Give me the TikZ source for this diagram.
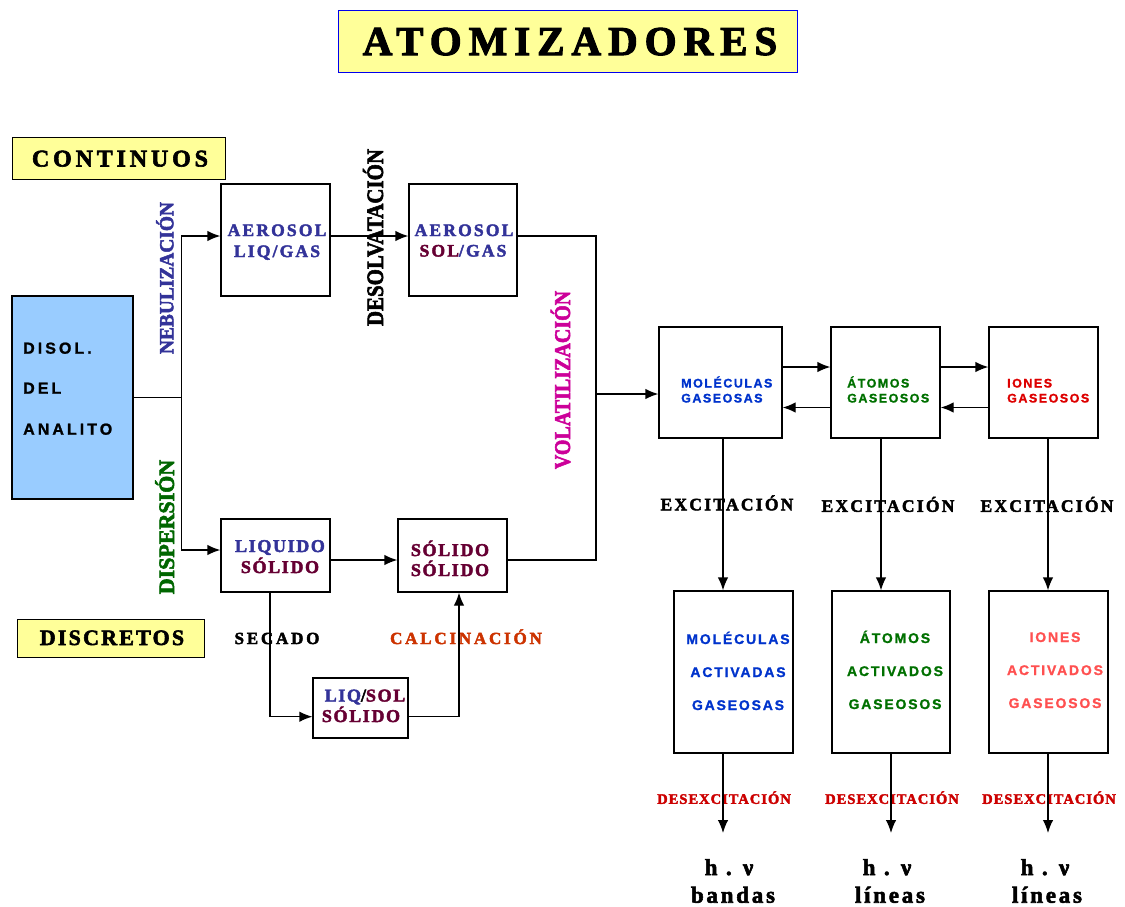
\documentclass[tikz,border=0pt]{standalone}
\usepackage{fontspec}
\setmainfont{Liberation Serif}
\newfontfamily\sansfam{Liberation Sans}
\usetikzlibrary{arrows.meta}
\definecolor{cYel}{HTML}{FFFF99}
\definecolor{cLb}{HTML}{99CCFF}
\definecolor{cNav}{HTML}{333399}
\definecolor{cMar}{HTML}{660033}
\definecolor{cGrn}{HTML}{006600}
\definecolor{cMag}{HTML}{CC0099}
\definecolor{cOra}{HTML}{CC3300}
\definecolor{cBlu}{HTML}{0033CC}
\definecolor{cGr2}{HTML}{007000}
\definecolor{cRed}{HTML}{DD0000}
\definecolor{cPink}{HTML}{FF5050}
\definecolor{cDes}{HTML}{CC0000}
\definecolor{cTb}{HTML}{0000EE}
\newcommand\myser[2]{\fontsize{#1}{#1}\selectfont\bfseries\addfontfeatures{LetterSpace=#2,FakeBold=2.5}}
\newcommand\mysan[2]{\sansfam\fontsize{#1}{#1}\selectfont\bfseries\addfontfeatures{LetterSpace=#2,FakeBold=1.2}}
\begin{document}
\begin{tikzpicture}[x=1pt,y=-1pt,
  box/.style={draw, line width=1.3pt, inner sep=0pt},
  arr/.style={-{Latex[length=13pt,width=10.5pt]}, line width=1.3pt},
  ln/.style={line width=1.3pt},
  lbl/.style={anchor=base, inner sep=0pt},
  lblw/.style={anchor=base west, inner sep=0pt},
  rot/.style={rotate=90, anchor=base, inner sep=0pt}]
\useasboundingbox (0,0) rectangle (1125,906);
% title and headers
\node[box, draw=cTb, line width=1pt, fill=cYel, minimum width=459pt, minimum height=62pt] (title) at (567.5,41) {};
\node[lbl] (ttext) at (570,55) {\myser{41}{17}ATOMIZADORES};
\node[box, fill=cYel, line width=1pt, minimum width=213pt, minimum height=42pt] (cont) at (118.5,158) {};
\node[lbl] (ctext) at (120,166.5) {\myser{24}{16}CONTINUOS};
\node[box, fill=cYel, line width=1pt, minimum width=187pt, minimum height=38pt] (disc) at (110.5,638) {};
\node[lbl] (dtext) at (112,645) {\myser{22}{10}DISCRETOS};
% analyte
\node[box, fill=cLb, minimum width=121pt, minimum height=203pt] (disol) at (72.5,397.5) {};
\node[lblw] (d1) at (23,353.7) {\mysan{16}{19}DISOL.};
\node[lblw] (d2) at (23,393.7) {\mysan{16}{19}DEL};
\node[lblw] (d3) at (23,434.7) {\mysan{16}{19}ANALITO};
% continuous branch
\node[box, minimum width=109pt, minimum height=112pt] (aer1) at (275.5,240) {};
\node[lbl] (a1a) at (277,236) {\myser{17.5}{12.5}\color{cNav}AEROSOL};
\node[lbl] (a1b) at (277,257) {\myser{17.5}{12.5}\color{cNav}LIQ/GAS};
\node[box, minimum width=108pt, minimum height=112pt] (aer2) at (463,240) {};
\node[lbl] (a2a) at (464,236) {\myser{17.5}{12.5}\color{cNav}AEROSOL};
\node[lbl] (a2b) at (463,256.5) {\myser{17.5}{12.5}\textcolor{cMar}{SOL}\textcolor{cNav}{/GAS}};
% discrete branch
\node[box, minimum width=109pt, minimum height=73pt] (liq) at (275.5,555.5) {};
\node[lbl] (l1) at (280,552) {\myser{18}{9}\color{cNav}LIQUIDO};
\node[lbl] (l2) at (280,573) {\myser{18}{9}\color{cMar}SÓLIDO};
\node[box, minimum width=109pt, minimum height=73pt] (sol) at (452.5,555.5) {};
\node[lbl] (s1) at (450,556) {\myser{18}{9}\color{cMar}SÓLIDO};
\node[lbl] (s2) at (450,576) {\myser{18}{9}\color{cMar}SÓLIDO};
\node[box, minimum width=95pt, minimum height=60pt] (liqsol) at (360.5,708) {};
\node[lbl] (ls1) at (365,701.5) {\myser{18}{9}\textcolor{cNav}{LIQ}/\textcolor{cMar}{SOL}};
\node[lbl] (ls2) at (361,722) {\myser{18}{9}\color{cMar}SÓLIDO};
\node[lbl] (secado) at (277,644) {\myser{17}{16.5}SECADO};
\node[lbl] (calc) at (466,644) {\myser{17}{16.5}\color{cOra}CALCINACIÓN};
% rotated labels
\node[rot] (neb) at (173.3,278) {\myser{20}{0}\color{cNav}\scalebox{0.97}[1]{NEBULIZACIÓN}};
\node[rot] (disp) at (174,527) {\myser{22}{0}\color{cGrn}\scalebox{1.0}[1]{DISPERSIÓN}};
\node[rot] (desolv) at (383,237.5) {\myser{23.5}{0}\scalebox{0.89}[1]{DESOLVATACIÓN}};
\node[rot] (volat) at (570,380) {\myser{22.5}{0}\color{cMag}\scalebox{0.89}[1]{VOLATILIZACIÓN}};
% gaseous species
\node[box, minimum width=123pt, minimum height=111pt] (mol) at (720.5,382.5) {};
\node[lblw] (m1) at (681,387.5) {\mysan{12.5}{12}\color{cBlu}MOLÉCULAS};
\node[lblw] (m2) at (681,402.5) {\mysan{12.5}{12}\color{cBlu}GASEOSAS};
\node[box, minimum width=109pt, minimum height=111pt] (ato) at (885.5,382.5) {};
\node[lblw] (t1) at (847,387.5) {\mysan{12.5}{12}\color{cGr2}ÁTOMOS};
\node[lblw] (t2) at (847,402.5) {\mysan{12.5}{12}\color{cGr2}GASEOSOS};
\node[box, minimum width=109pt, minimum height=111pt] (ion) at (1043.5,382.5) {};
\node[lblw] (i1) at (1007,387.5) {\mysan{12.5}{12}\color{cRed}IONES};
\node[lblw] (i2) at (1007,402.5) {\mysan{12.5}{12}\color{cRed}GASEOSOS};
% activated species
\node[box, minimum width=119pt, minimum height=162pt] (mola) at (733.5,672) {};
\node[lbl] (ma1) at (738,644) {\mysan{14}{13}\color{cBlu}MOLÉCULAS};
\node[lbl] (ma2) at (738,677) {\mysan{14}{13}\color{cBlu}ACTIVADAS};
\node[lbl] (ma3) at (738,710) {\mysan{14}{13}\color{cBlu}GASEOSAS};
\node[box, minimum width=118pt, minimum height=162pt] (atoa) at (891,672) {};
\node[lbl] (ta1) at (895,643) {\mysan{14}{13}\color{cGr2}ÁTOMOS};
\node[lbl] (ta2) at (895,676) {\mysan{14}{13}\color{cGr2}ACTIVADOS};
\node[lbl] (ta3) at (895,709) {\mysan{14}{13}\color{cGr2}GASEOSOS};
\node[box, minimum width=119pt, minimum height=162pt] (iona) at (1048.5,672) {};
\node[lbl] (ia1) at (1055,642) {\mysan{14}{13}\color{cPink}IONES};
\node[lbl] (ia2) at (1055,675) {\mysan{14}{13}\color{cPink}ACTIVADOS};
\node[lbl] (ia3) at (1055,708) {\mysan{14}{13}\color{cPink}GASEOSOS};
% excitation labels
\node[lbl] (ex1) at (727,510.3) {\myser{17.5}{13}EXCITACIÓN};
\node[lbl] (ex2) at (888,511.8) {\myser{17.5}{13}EXCITACIÓN};
\node[lbl] (ex3) at (1047,511.8) {\myser{17.5}{13}EXCITACIÓN};
\node[lbl] (dx1) at (724,803.8) {\myser{14.5}{7}\color{cDes}DESEXCITACIÓN};
\node[lbl] (dx2) at (892,803.8) {\myser{14.5}{7}\color{cDes}DESEXCITACIÓN};
\node[lbl] (dx3) at (1049,803.8) {\myser{14.5}{7}\color{cDes}DESEXCITACIÓN};
\node[lbl] (hv1) at (729,875) {\myser{23}{12}h . ν};
\node[lbl] (b1) at (733,902.7) {\myser{23}{12}bandas};
\node[lbl] (hv2) at (887,875) {\myser{23}{12}h . ν};
\node[lbl] (b2) at (890,902.7) {\myser{23}{12}líneas};
\node[lbl] (hv3) at (1045,875) {\myser{23}{12}h . ν};
\node[lbl] (b3) at (1047,902.7) {\myser{23}{12}líneas};
% connectors
\coordinate (j1) at (181.5,397.5);
\draw[ln] (disol.east |- j1) -- (j1);
\draw[arr] (j1) |- ([yshift=4pt]aer1.west);
\draw[arr] (j1) |- ([yshift=5.5pt]liq.west);
\draw[arr] ([yshift=4pt]aer1.east) -- ([yshift=4pt]aer2.west);
\coordinate (v) at (596,394);
\draw[ln] ([yshift=4pt]aer2.east) -| (v);
\draw[ln] ([yshift=-4.5pt]sol.east) -| (v);
\draw[arr] (v) -- (v -| mol.west);
\draw[arr] ([yshift=-4.5pt]liq.east) -- ([yshift=-4.5pt]sol.west);
\coordinate (c270) at (270,716.7);
\coordinate (c459) at (459,716.7);
\draw[arr] (liq.south -| c270) -- (c270) -- (c270 -| liqsol.west);
\draw[arr] (c459 -| liqsol.east) -- (c459) -- (sol.south -| c459);
\coordinate (r1) at (0,367);
\coordinate (r2) at (0,407.5);
\draw[arr] (mol.east |- r1) -- (ato.west |- r1);
\draw[arr] (ato.west |- r2) -- (mol.east |- r2);
\draw[arr] (ato.east |- r1) -- (ion.west |- r1);
\draw[arr] (ion.west |- r2) -- (ato.east |- r2);
\coordinate (e1) at (723,0);
\coordinate (e2) at (881,0);
\coordinate (e3) at (1048,0);
\draw[arr] (mol.south -| e1) -- (mola.north -| e1);
\draw[arr] (ato.south -| e2) -- (atoa.north -| e2);
\draw[arr] (ion.south -| e3) -- (iona.north -| e3);
\coordinate (f1) at (723,833);
\coordinate (f2) at (891,833);
\coordinate (f3) at (1048,833);
\draw[arr] (mola.south -| f1) -- (f1);
\draw[arr] (atoa.south -| f2) -- (f2);
\draw[arr] (iona.south -| f3) -- (f3);
\end{tikzpicture}
\end{document}
